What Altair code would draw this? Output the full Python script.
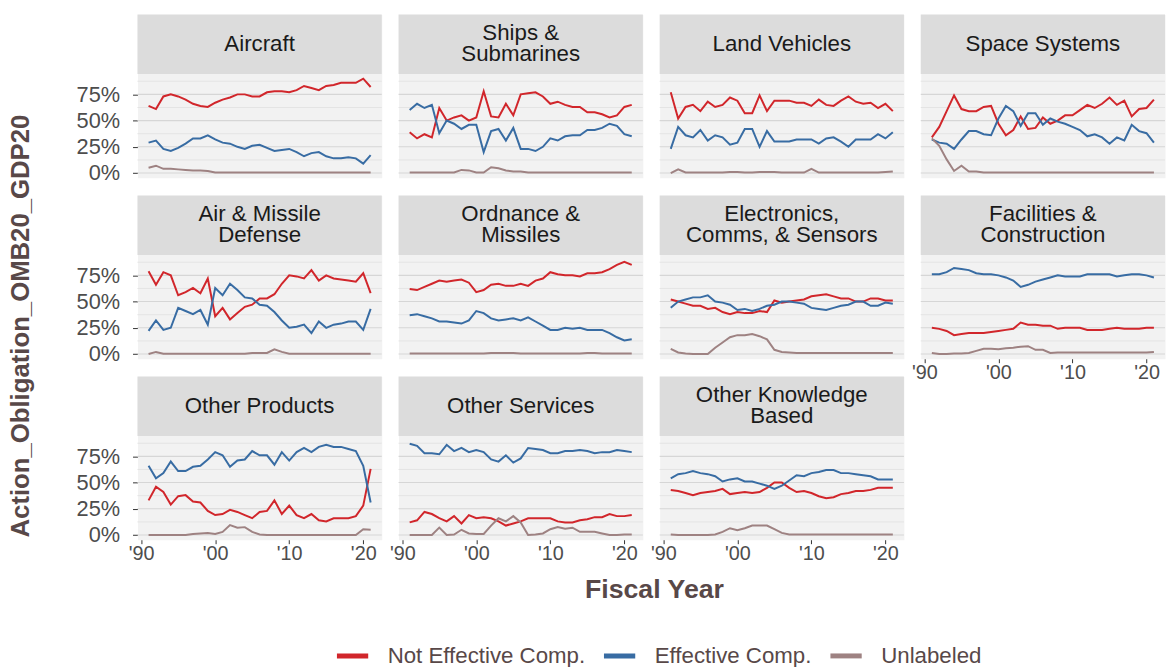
import altair as alt
import pandas as pd

years = list(range(1991, 2022))

categories = ["Aircraft", "Ships & Submarines", "Land Vehicles", "Space Systems",
              "Air & Missile Defense", "Ordnance & Missiles",
              "Electronics, Comms, & Sensors", "Facilities & Construction",
              "Other Products", "Other Services", "Other Knowledge Based"]
strip_labels = ["Aircraft", "Ships &\nSubmarines", "Land Vehicles", "Space Systems",
                "Air & Missile\nDefense", "Ordnance &\nMissiles",
                "Electronics,\nComms, & Sensors", "Facilities &\nConstruction",
                "Other Products", "Other Services", "Other Knowledge\nBased"]
series_names = ["Not Effective Comp.", "Effective Comp.", "Unlabeled"]
series_colors = ["#D1262B", "#386CA3", "#9E8282"]

# ---- values (share of obligations) 1991..2021 ----
aircraft_not = [.64, .61, .73, .75, .73, .70, .66, .64, .63, .67, .70, .72, .75, .75, .73, .73,
                .77, .78, .78, .77, .79, .83, .81, .79, .83, .84, .86, .86, .86, .90, .82]
aircraft_eff = [.29, .31, .23, .21, .24, .28, .33, .33, .36, .32, .29, .28, .25, .23, .26, .27,
                .24, .21, .22, .23, .20, .16, .19, .20, .16, .14, .14, .15, .14, .09, .17]
aircraft_unl = [.05, .07, .04, .04, .035, .03, .025, .025, .02, .005, .005, .005, .005, .005, .005, .005,
                .005, .005, .005, .005, .005, .005, .005, .005, .005, .005, .005, .005, .005, .005, .005]

ships_not = [.39, .33, .37, .34, .62, .50, .53, .55, .50, .53, .78, .54, .53, .66, .55, .75,
             .76, .77, .73, .66, .68, .65, .63, .63, .58, .58, .56, .53, .55, .63, .65]
ships_eff = [.60, .66, .62, .65, .38, .50, .47, .42, .46, .46, .20, .40, .42, .31, .43, .23,
             .23, .21, .25, .33, .31, .35, .36, .36, .41, .41, .43, .47, .45, .37, .35]
ships_unl = [.005, .005, .005, .005, .005, .005, .005, .03, .025, .005, .005, .055, .045, .025, .015, .015,
             .005, .005, .005, .005, .005, .005, .005, .005, .005, .005, .005, .005, .005, .005, .005]

land_not = [.77, .52, .63, .65, .59, .68, .63, .65, .72, .69, .57, .57, .74, .59, .69, .69,
            .69, .67, .67, .64, .70, .65, .64, .69, .73, .68, .66, .67, .62, .66, .59]
land_eff = [.23, .44, .36, .34, .41, .31, .36, .34, .27, .29, .42, .42, .25, .40, .30, .30,
            .30, .32, .32, .32, .28, .33, .34, .30, .25, .32, .32, .32, .37, .33, .39]
land_unl = [.0, .035, .005, .005, .005, .005, .005, .005, .01, .01, .005, .005, .01, .01, .01, .005,
            .005, .005, .005, .04, .005, .005, .005, .005, .005, .005, .005, .005, .005, .01, .015]

space_not = [.34, .44, .59, .74, .61, .59, .59, .63, .64, .47, .36, .41, .54, .42, .43, .53,
             .47, .50, .55, .55, .60, .65, .62, .66, .72, .65, .69, .54, .61, .62, .70]
space_eff = [.32, .29, .28, .23, .32, .40, .40, .37, .36, .52, .64, .59, .45, .57, .57, .46,
             .52, .49, .47, .44, .41, .35, .37, .34, .28, .34, .31, .46, .40, .38, .29]
space_unl = [.33, .26, .13, .02, .07, .015, .015, .005, .005, .005, .005, .005, .005, .005, .005, .005,
             .005, .005, .005, .005, .005, .005, .005, .005, .005, .005, .005, .005, .005, .005, .005]

amd_not = [.79, .66, .78, .75, .56, .59, .63, .58, .72, .36, .44, .33, .39, .45, .47, .53,
           .53, .57, .67, .75, .74, .72, .80, .70, .75, .72, .71, .70, .69, .77, .58]
amd_eff = [.22, .32, .23, .25, .44, .41, .38, .42, .28, .63, .56, .67, .61, .54, .53, .47,
           .46, .40, .32, .25, .26, .28, .20, .31, .25, .28, .29, .31, .31, .23, .43]
amd_unl = [.0, .02, .003, .003, .003, .003, .003, .003, .003, .003, .003, .003, .003, .003, .01, .01,
           .01, .045, .02, .003, .003, .003, .003, .003, .003, .003, .003, .003, .003, .003, .003]

ord_not = [.62, .61, .64, .67, .70, .69, .70, .71, .68, .59, .61, .66, .67, .65, .65, .67,
           .65, .70, .72, .78, .76, .75, .75, .74, .77, .77, .78, .81, .85, .88, .85]
ord_eff = [.37, .38, .36, .34, .31, .31, .30, .29, .32, .41, .39, .34, .32, .33, .34, .32,
           .35, .31, .27, .23, .23, .25, .24, .25, .23, .23, .23, .20, .16, .13, .14]
ord_unl = [.004, .004, .004, .004, .004, .004, .004, .004, .004, .004, .004, .01, .01, .01, .01, .004,
           .004, .004, .004, .004, .004, .004, .004, .004, .01, .01, .004, .004, .004, .004, .004]

ecs_not = [.52, .50, .48, .46, .46, .43, .44, .40, .38, .40, .39, .39, .41, .40, .51, .49,
           .50, .51, .52, .55, .56, .57, .55, .53, .53, .50, .50, .53, .53, .51, .51]
ecs_eff = [.44, .50, .52, .54, .54, .56, .50, .49, .47, .42, .43, .41, .43, .46, .47, .50,
           .50, .49, .48, .44, .43, .42, .44, .46, .47, .50, .50, .46, .46, .49, .48]
ecs_unl = [.05, .015, .005, .0, .0, .0, .06, .11, .16, .18, .18, .19, .17, .14, .04, .02,
           .015, .01, .01, .01, .01, .01, .01, .01, .01, .01, .01, .01, .01, .01, .01]

fac_not = [.25, .24, .22, .18, .19, .20, .20, .20, .21, .22, .23, .24, .30, .28, .28, .27,
           .27, .24, .25, .25, .25, .23, .23, .23, .24, .25, .24, .24, .24, .25, .25]
fac_eff = [.76, .76, .78, .82, .81, .80, .77, .76, .76, .75, .73, .70, .64, .66, .69, .71,
           .73, .75, .74, .74, .74, .76, .76, .76, .76, .74, .75, .76, .76, .75, .73]
fac_unl = [.01, .0, .0, .005, .005, .01, .03, .05, .05, .045, .055, .06, .07, .075, .04, .04,
           .01, .015, .015, .015, .015, .015, .015, .015, .015, .015, .015, .015, .015, .015, .02]

op_not = [.33, .46, .41, .29, .37, .38, .32, .31, .23, .19, .20, .24, .22, .19, .16, .22,
          .23, .33, .20, .28, .19, .16, .20, .14, .13, .16, .16, .16, .18, .28, .63]
op_eff = [.66, .54, .59, .70, .61, .61, .65, .66, .72, .79, .76, .65, .71, .72, .80, .76,
          .76, .67, .79, .71, .79, .83, .79, .84, .86, .84, .84, .82, .80, .66, .31]
op_unl = [.0, .0, .0, .0, .0, .0, .01, .015, .02, .01, .03, .095, .07, .075, .03, .005,
          .0, .0, .0, .0, .0, .0, .0, .0, .0, .0, .0, .0, .0, .055, .05]

os_not = [.12, .14, .22, .20, .16, .13, .18, .11, .19, .16, .17, .16, .13, .09, .11, .13,
          .16, .16, .16, .16, .13, .12, .12, .14, .15, .17, .17, .20, .18, .18, .19]
os_eff = [.87, .85, .78, .78, .77, .86, .80, .83, .79, .81, .79, .72, .70, .76, .69, .73,
          .83, .82, .81, .78, .78, .80, .80, .81, .80, .78, .79, .79, .81, .80, .79]
os_unl = [.0, .0, .0, .0, .07, .0, .005, .05, .015, .01, .01, .09, .16, .13, .18, .12,
          .0, .005, .015, .055, .075, .06, .07, .03, .03, .03, .015, .0, .0, .005, .005]

okb_not = [.43, .42, .40, .38, .40, .41, .42, .44, .39, .40, .41, .40, .41, .45, .50, .50,
           .45, .41, .42, .40, .37, .35, .36, .39, .40, .42, .42, .43, .45, .45, .45]
okb_eff = [.54, .58, .59, .61, .59, .58, .56, .51, .53, .54, .51, .51, .49, .47, .44, .47,
           .52, .57, .56, .59, .60, .62, .62, .59, .59, .58, .57, .56, .53, .53, .53]
okb_unl = [.005, .0, .0, .0, .0, .0, .005, .03, .065, .045, .065, .09, .09, .09, .055, .02,
           .005, .005, .005, .005, .005, .005, .005, .005, .005, .005, .005, .005, .005, .005, .005]

panel_series = [
    (aircraft_not, aircraft_eff, aircraft_unl),
    (ships_not, ships_eff, ships_unl),
    (land_not, land_eff, land_unl),
    (space_not, space_eff, space_unl),
    (amd_not, amd_eff, amd_unl),
    (ord_not, ord_eff, ord_unl),
    (ecs_not, ecs_eff, ecs_unl),
    (fac_not, fac_eff, fac_unl),
    (op_not, op_eff, op_unl),
    (os_not, os_eff, os_unl),
    (okb_not, okb_eff, okb_unl),
]

rows = []
for cat, lab, arrs in zip(categories, strip_labels, panel_series):
    for sname, arr in zip(series_names, arrs):
        for yr, v in zip(years, arr):
            rows.append({"cat": cat, "label": lab, "series": sname, "year": yr, "value": v})
df = pd.DataFrame(rows)

TICK_COLOR = "#4D4D4D"
TITLE_COLOR = "#584848"
X_LO, X_HI = 1989.5, 2022.5
Y_LO, Y_PANEL_TOP, Y_HI = -0.045, 0.945, 1.5107
PANEL_W, PANEL_H = 247, 165
UNITS_PER_PX = (Y_HI - Y_LO) / PANEL_H
Y_STRIP_MID = (Y_PANEL_TOP + Y_HI) / 2
Y_TEXT_ONE = Y_STRIP_MID
Y_TEXT_TWO = Y_STRIP_MID + 11 * UNITS_PER_PX

XSCALE = alt.Scale(domain=[X_LO, X_HI], nice=False, zero=False)
YSCALE = alt.Scale(domain=[Y_LO, Y_HI], nice=False, zero=False)
XAXIS = alt.Axis(values=[1990, 2000, 2010, 2020],
                 labelExpr="\"'\" + substring(toString(datum.value), 2, 4)",
                 title=None, grid=False, domain=False, tickSize=4, tickColor="#333333",
                 labelFontSize=20, labelColor=TICK_COLOR, labelPadding=0)
YAXIS = alt.Axis(values=[0, 0.25, 0.5, 0.75], format=".0%", title=None, grid=False,
                 domain=False, tickSize=5, tickColor="#333333", labelFontSize=22,
                 labelColor=TICK_COLOR, labelPadding=13)

first_row = "datum.year == 1991 && datum.series == 'Not Effective Comp.'"
legend = alt.Legend(orient="none", legendX=199, legendY=630,
                    direction="horizontal", title=None,
                    symbolType="stroke", symbolStrokeWidth=5,
                    symbolSize=1000, labelFontSize=22.5, labelLimit=400,
                    labelColor=TITLE_COLOR, labelOffset=17, columnPadding=8)


def panel(i, cat):
    col, row = i % 4, i // 4
    xa = XAXIS if (row == 2 or cat == "Facilities & Construction") else None
    ya = YAXIS if col == 0 else None
    base = alt.Chart()

    def xd(v):
        return alt.XDatum(v, scale=XSCALE, axis=xa)

    def yd(v):
        return alt.YDatum(v, scale=YSCALE, axis=ya)

    strip = base.transform_filter(first_row).mark_rect(color="#DCDCDC").encode(
        x=xd(X_LO), x2=alt.X2Datum(X_HI), y=yd(Y_PANEL_TOP), y2=alt.Y2Datum(Y_HI))
    minor = base.transform_filter(first_row).transform_calculate(
        gl="[0.125, 0.375, 0.625, 0.875]").transform_flatten(["gl"]).mark_rule(
        color="#E4E4E4", strokeWidth=1).encode(
        x=xd(X_LO), x2=alt.X2Datum(X_HI), y=alt.Y("gl:Q", scale=YSCALE, axis=ya))
    major = base.transform_filter(first_row).transform_calculate(
        gl="[0, 0.25, 0.5, 0.75]").transform_flatten(["gl"]).mark_rule(
        color="#D6D6D6", strokeWidth=1.1).encode(
        x=xd(X_LO), x2=alt.X2Datum(X_HI), y=alt.Y("gl:Q", scale=YSCALE, axis=ya))
    strip_text = base.transform_filter(first_row).transform_calculate(
        ty=f"indexof(datum.label, '\\n') >= 0 ? {Y_TEXT_TWO} : {Y_TEXT_ONE}"
    ).mark_text(
        fontSize=22.5, color="#1A1A1A", lineBreak="\n", lineHeight=21,
        align="center", baseline="middle").encode(
        x=xd(2006), y=alt.Y("ty:Q", scale=YSCALE, axis=ya), text="label:N")
    lines = base.mark_line(strokeWidth=2).encode(
        x=alt.X("year:Q", scale=XSCALE, axis=xa),
        y=alt.Y("value:Q", scale=YSCALE, axis=ya),
        color=alt.Color("series:N",
                        scale=alt.Scale(domain=series_names, range=series_colors),
                        sort=series_names, legend=legend),
        detail="series:N")
    return alt.layer(strip, minor, major, strip_text, lines, data=df).transform_filter(
        alt.datum.cat == cat).properties(width=PANEL_W, height=PANEL_H)


panels = [panel(i, c) for i, c in enumerate(categories)]
columns = [alt.vconcat(*[panels[j] for j in range(c, len(panels), 4)],
                       spacing=18, bounds="flush") for c in range(4)]

grid = alt.hconcat(*columns, spacing=5).properties(
    title=alt.TitleParams("Fiscal Year", orient="bottom", anchor="middle",
                          fontSize=27, fontWeight="bold", color=TITLE_COLOR,
                          offset=13, dx=34)
)
framed = alt.vconcat(grid).properties(
    title=alt.TitleParams("Action_Obligation_OMB20_GDP20", orient="left", anchor="middle",
                          fontSize=26, fontWeight="bold", color=TITLE_COLOR,
                          offset=42, dx=-18)
)

chart = alt.vconcat(framed).properties(
    padding={"left": 8, "top": 10, "right": 0, "bottom": 0}
).configure(font="Liberation Sans").configure_view(fill="#F2F2F2", stroke="transparent")

chart.save("out.html", embed_options={"renderer": "svg", "actions": False})
